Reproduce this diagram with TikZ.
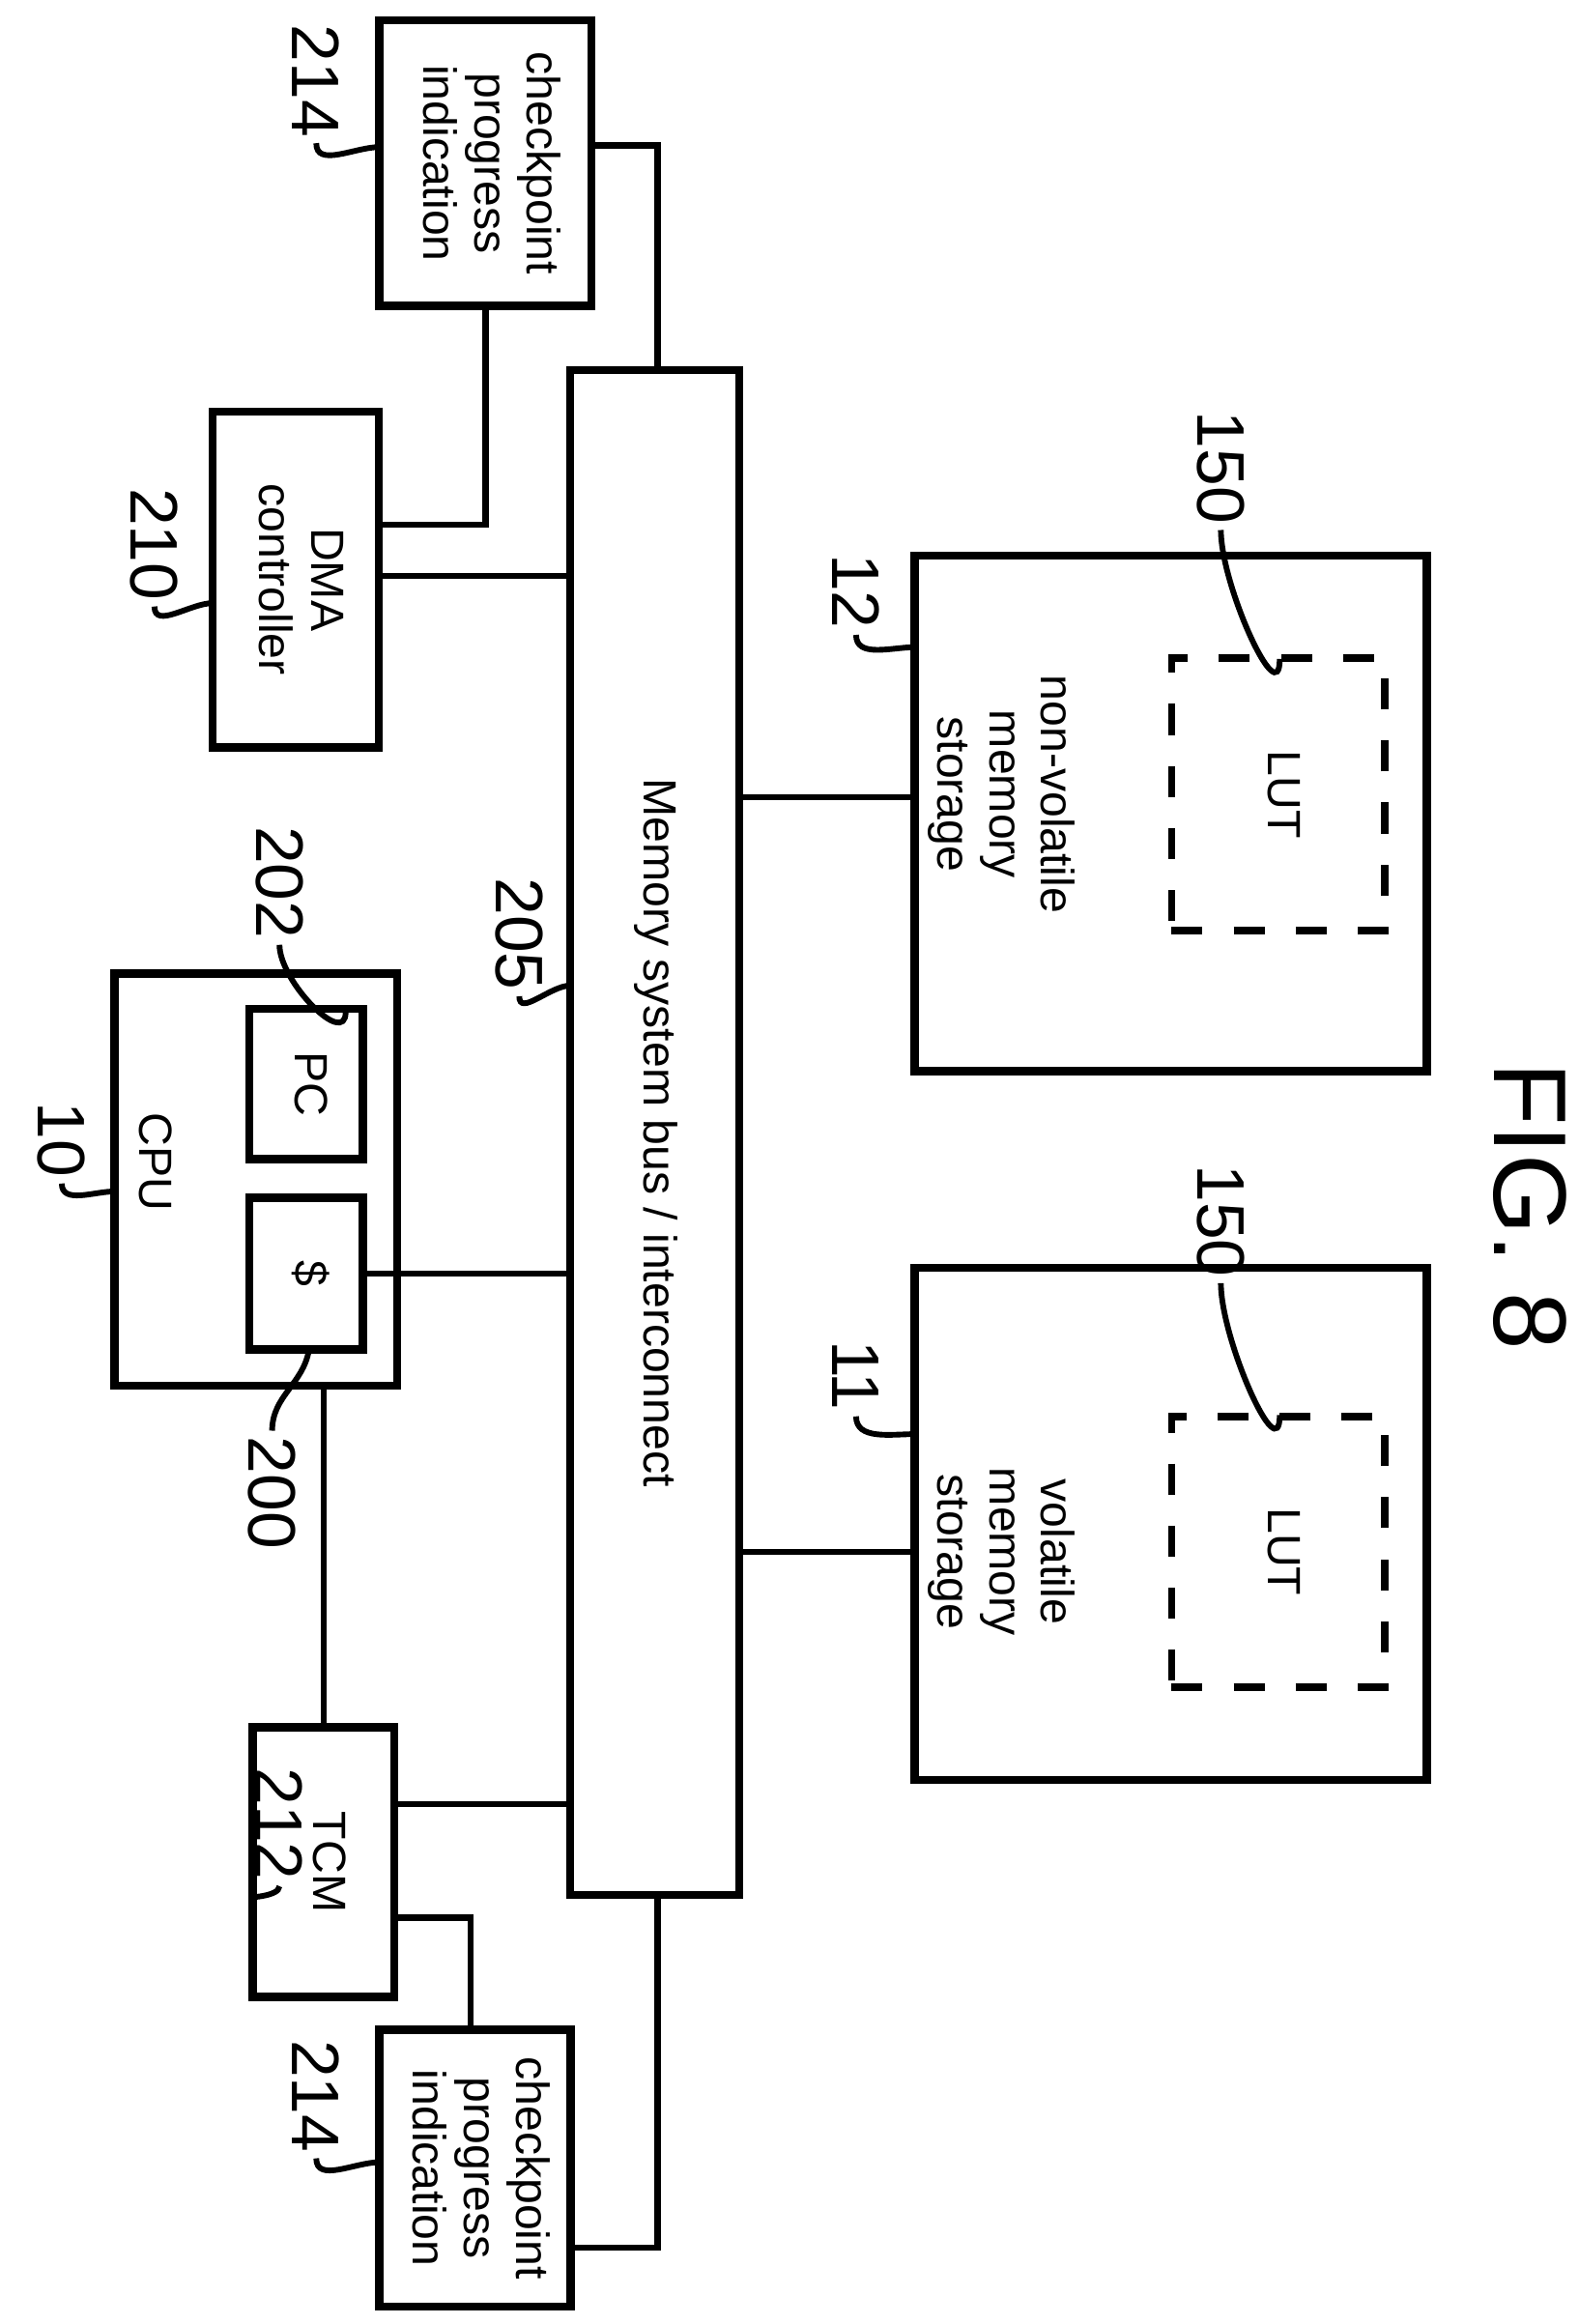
\documentclass[tikz,border=0pt]{standalone}
\usepackage{fontspec}
\setmainfont{Liberation Sans}
\usetikzlibrary{positioning,calc}
\newcommand{\rot}[1]{\rotatebox{-90}{\begin{tabular}{@{}c@{}}#1\end{tabular}}}
\begin{document}
\begin{tikzpicture}[x=0.01cm,y=-0.01cm,
    box/.style={draw, line width=1.6pt, inner sep=0pt, font=\fontsize{9}{10}\selectfont},
    lut/.style={draw, line width=1.4pt, dash pattern=on 6pt off 6pt, inner sep=0pt, font=\fontsize{9}{10}\selectfont},
    wire/.style={line width=1.2pt},
    lead/.style={line width=1.1pt},
    num/.style={font=\fontsize{13}{14}\selectfont, rotate=-90, inner sep=1pt}]
    \useasboundingbox (0,0) rectangle (1073,1580);
    % blocks
    \node[box, minimum width=1.92cm, minimum height=2.80cm] (cpu) at (174,802) {};
    \node[font=\fontsize{9}{10}\selectfont] (cputxt) at (102,790) {\rot{CPU}};
    \node[box, minimum width=0.77cm, minimum height=1.02cm] (pc) at (208,737) {\rot{PC}};
    \node[box, minimum width=0.77cm, minimum height=1.03cm] (cache) at (208,866) {\rot{\$}};
    \node[box, minimum width=1.15cm, minimum height=10.36cm] (bus) at (445,770) {\rot{Memory system bus / interconnect}};
    \node[box, minimum width=1.13cm, minimum height=2.28cm] (dma) at (201,394) {\rot{DMA\\controller}};
    \node[box, minimum width=1.44cm, minimum height=1.94cm] (chktop) at (330,111) {\rot{checkpoint\\progress\\indication}};
    \node[box, minimum width=0.96cm, minimum height=1.83cm] (tcm) at (220,1266) {\rot{TCM}};
    \node[box, minimum width=1.30cm, minimum height=1.88cm] (chkbot) at (323,1474) {\rot{checkpoint\\progress\\indication}};
    \node[box, minimum width=3.48cm, minimum height=3.50cm] (nvm) at (796,553) {};
    \node[font=\fontsize{9}{10}\selectfont] (nvmtxt) at (680,540) {\rot{non-volatile\\memory\\storage}};
    \node[lut, minimum width=1.45cm, minimum height=1.85cm] (lut1) at (869,540) {\rot{LUT}};
    \node[box, minimum width=3.48cm, minimum height=3.48cm] (vm) at (796,1036) {};
    \node[font=\fontsize{9}{10}\selectfont] (vmtxt) at (680,1055) {\rot{volatile\\memory\\storage}};
    \node[lut, minimum width=1.45cm, minimum height=1.84cm] (lut2) at (869,1055) {\rot{LUT}};
    \node[font=\fontsize{20}{22}\selectfont, rotate=-90] (fig) at (1040,820) {FIG. 8};
    % connectors
    \draw[wire] (cache.east) -- (bus.west |- cache.east);
    \draw[wire] (cpu.south -| tcm.north) -- (tcm.north);
    \draw[wire] ($(tcm.north east)!0.29!(tcm.south east)$) coordinate (t1) -- (bus.west |- t1);
    \draw[wire] ($(tcm.north east)!0.70!(tcm.south east)$) -| (chkbot.north -| 320,0);
    \draw[wire] ($(chkbot.north east)!0.78!(chkbot.south east)$) -| (bus.south -| 447,0);
    \draw[wire] ($(dma.north east)!0.49!(dma.south east)$) coordinate (d1) -- (bus.west |- d1);
    \draw[wire] ($(dma.north east)!0.34!(dma.south east)$) -| (chktop.south -| 330,0);
    \draw[wire] ($(chktop.north east)!0.44!(chktop.south east)$) -| (bus.north -| 447,0);
    \draw[wire] (bus.east |- 0,542) coordinate (b1) -- (nvm.west |- b1);
    \draw[wire] (bus.east |- 0,1055) coordinate (b2) -- (vm.west |- b2);
    % reference numerals
    \node[num] (n214a) at (215,55) {214};
    \draw[lead] (n214a.east) to[out=-90,in=180] (258,100);
    \node[num] (n210) at (105,370) {210};
    \draw[lead] (n210.east) to[out=-90,in=180] (145,410);
    \node[num] (n10) at (42,775) {10};
    \draw[lead] (n10.east) to[out=-90,in=180] (78,810);
    \node[num] (n202) at (190,600) {202};
    \draw[lead] (n202.east) to[out=-90,in=-90] (235,688);
    \node[num] (n205) at (353,635) {205};
    \draw[lead] (n205.east) to[out=-90,in=180] (388,670);
    \node[num] (n200) at (185,1015) {200};
    \draw[lead] (n200.west) to[out=90,in=-100] (210,918);
    \node[num] (n212) at (190,1240) {212};
    \draw[lead] (n212.east) to[out=-90,in=180] (172,1290);
    \node[num] (n214b) at (215,1425) {214};
    \draw[lead] (n214b.east) to[out=-90,in=180] (258,1470);
    \node[num] (n12) at (582,402) {12};
    \draw[lead] (n12.east) to[out=-90,in=180] (622,440);
    \node[num] (n11) at (582,935) {11};
    \draw[lead] (n11.east) to[out=-90,in=180] (622,975);
    \node[num] (n150a) at (830,318) {150};
    \draw[lead] (n150a.east) to[out=-90,in=-90] (870,448);
    \node[num] (n150b) at (830,830) {150};
    \draw[lead] (n150b.east) to[out=-90,in=-90] (870,962);
\end{tikzpicture}
\end{document}
